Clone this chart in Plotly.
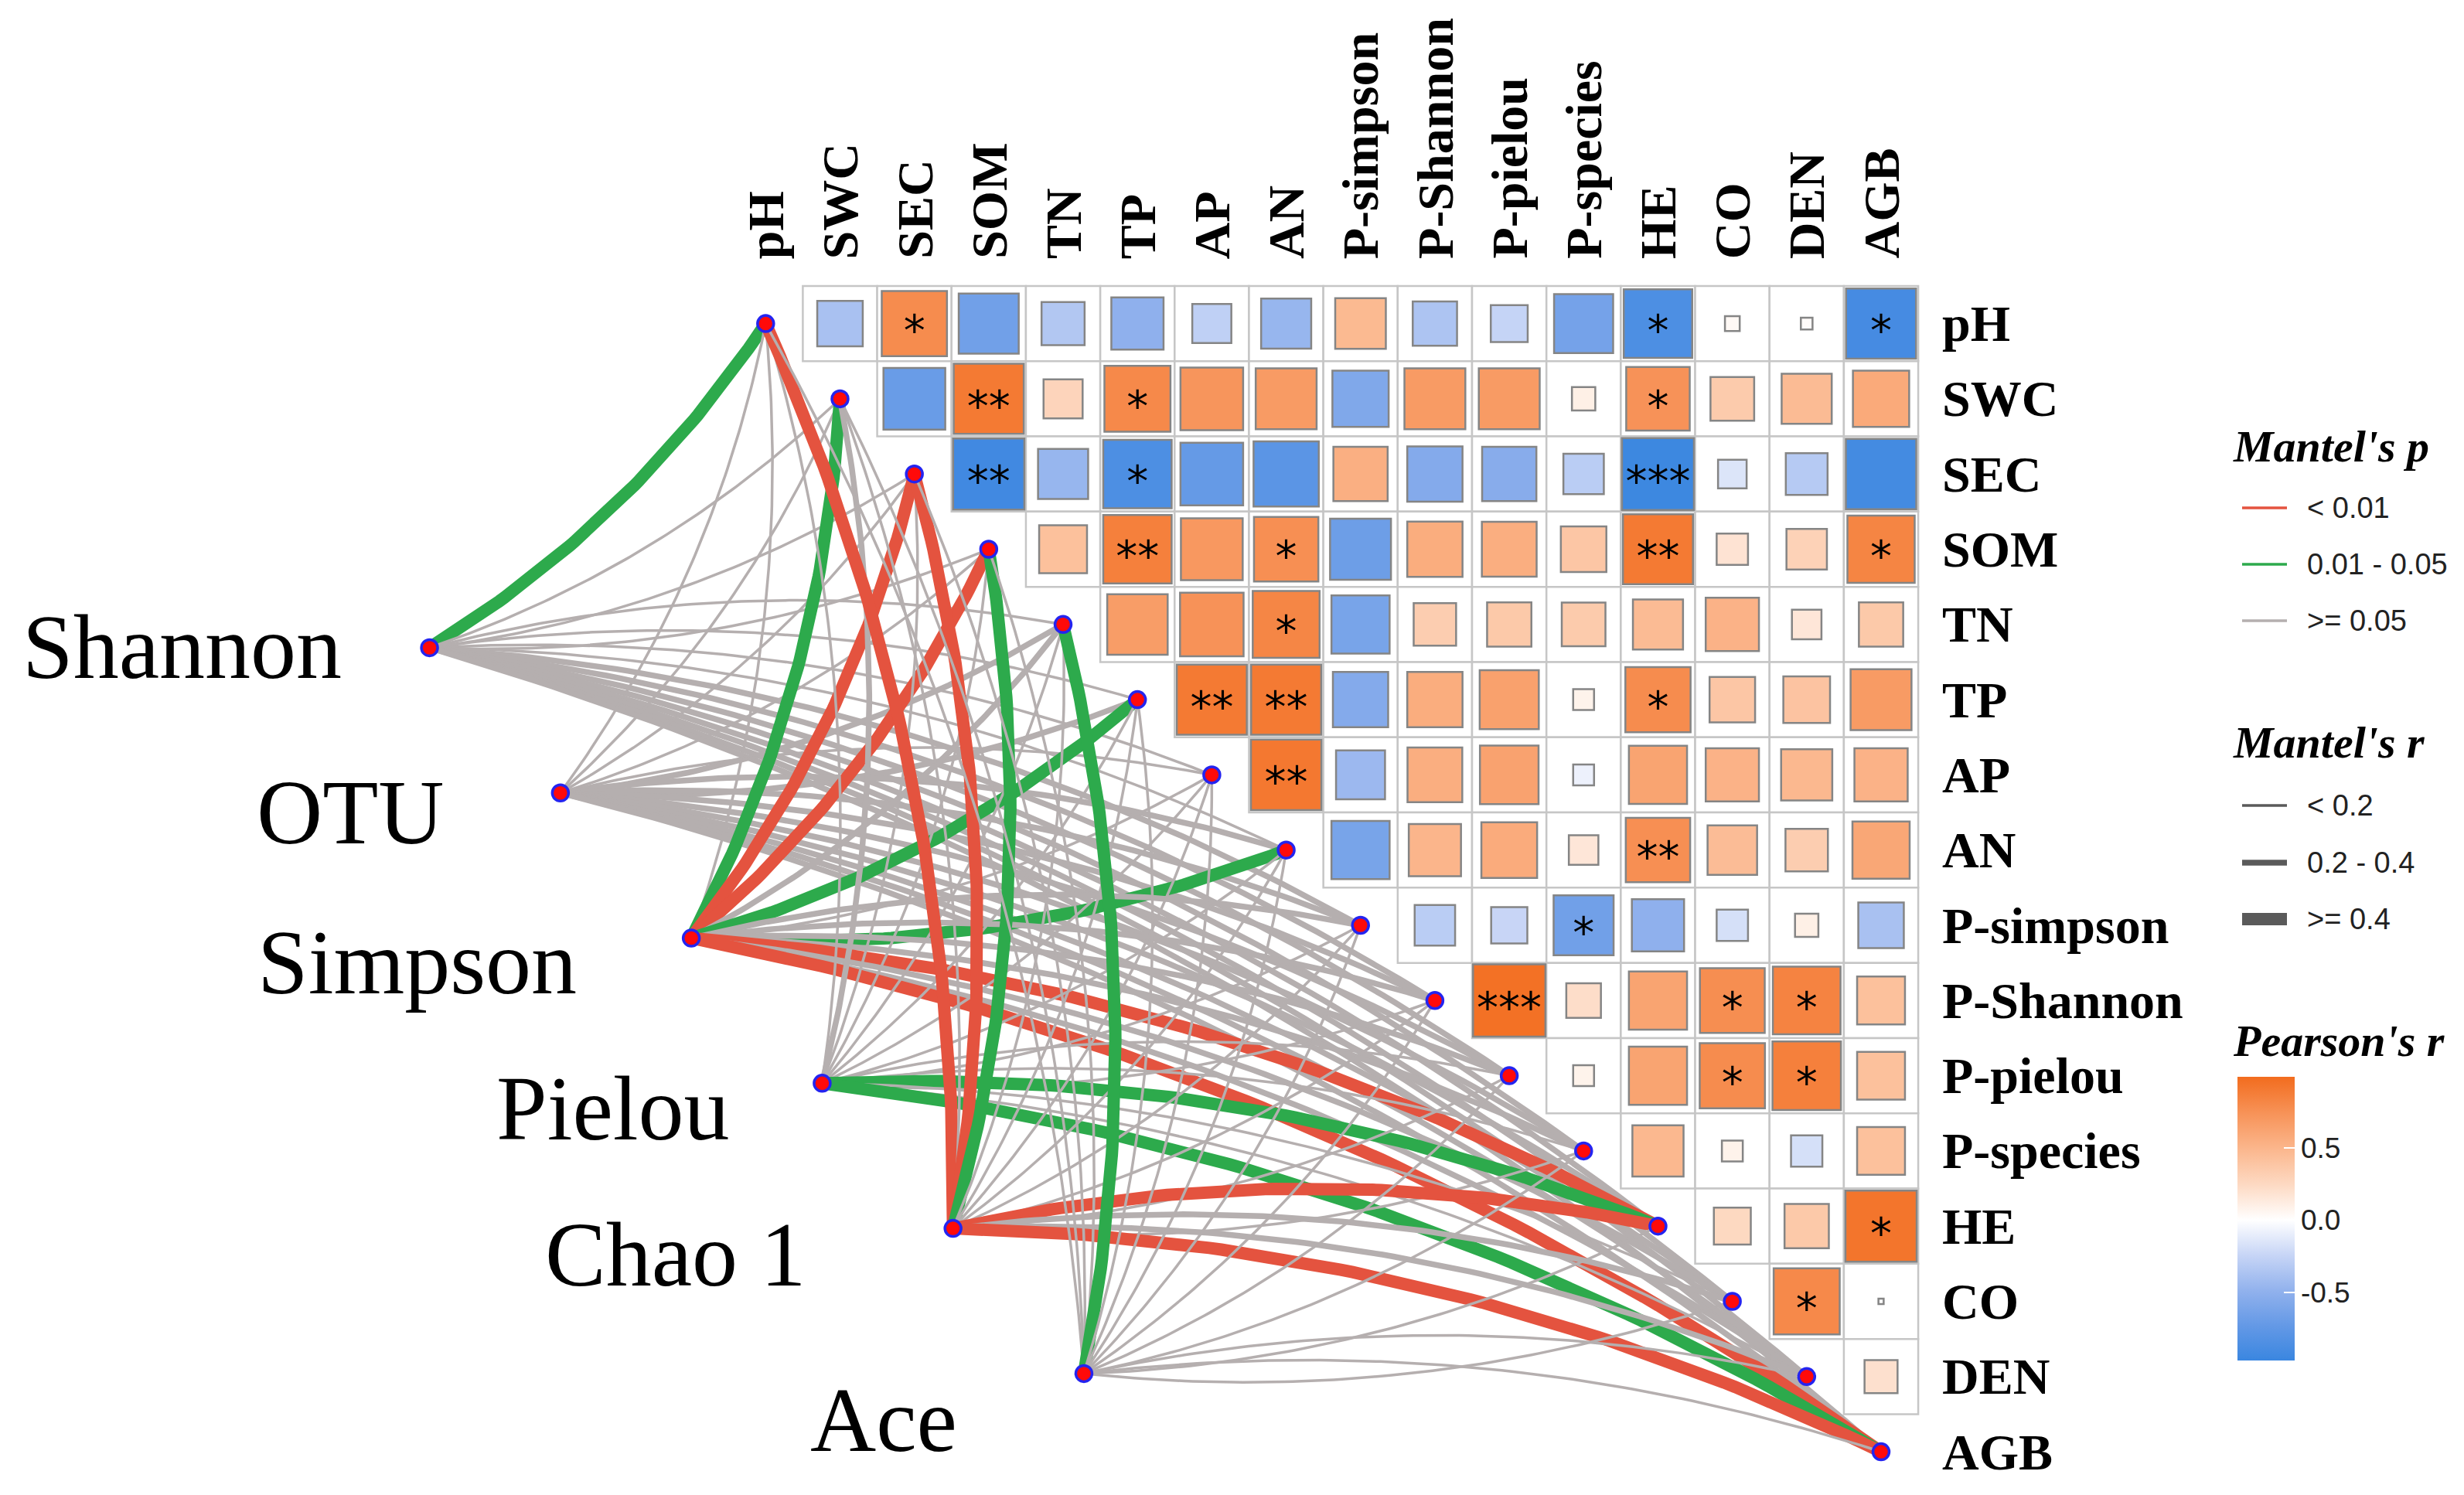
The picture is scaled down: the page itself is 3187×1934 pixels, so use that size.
import numpy as np
import plotly.graph_objects as go

W, H = 3187, 1934
OFF = 8                      # default page margin of the browser
FW, FH = W - 2 * OFF, H - 2 * OFF

# ---------------- data ----------------
variables = ["pH", "SWC", "SEC", "SOM", "TN", "TP", "AP", "AN", "P-simpson",
             "P-Shannon", "P-pielou", "P-species", "HE", "CO", "DEN", "AGB"]

# Pearson's r, upper triangle, row by row (columns to the right of the diagonal)
r_pH = [-0.38, 0.78, -0.66, -0.34, -0.50, -0.28, -0.46, 0.47, -0.36, -0.25, -0.64, -0.86, 0.04, 0.025, -0.90]
r_SWC = [-0.70, 0.90, 0.28, 0.80, 0.72, 0.68, -0.58, 0.68, 0.68, 0.10, 0.74, 0.35, 0.46, 0.58]
r_SEC = [-0.93, -0.46, -0.86, -0.72, -0.78, 0.54, -0.56, -0.54, -0.30, -0.95, -0.15, -0.32, -0.91]
r_SOM = [0.42, 0.86, 0.70, 0.76, -0.68, 0.56, 0.55, 0.38, 0.90, 0.18, 0.30, 0.83]
r_TN = [0.67, 0.74, 0.82, -0.62, 0.33, 0.36, 0.35, 0.46, 0.52, 0.16, 0.36]
r_TP = [0.90, 0.90, -0.56, 0.56, 0.64, 0.08, 0.78, 0.38, 0.40, 0.68]
r_AP = [0.91, -0.44, 0.55, 0.63, -0.08, 0.62, 0.52, 0.48, 0.52]
r_AN = [-0.62, 0.50, 0.57, 0.16, 0.76, 0.45, 0.33, 0.60]
r_Psimpson = [-0.30, -0.24, -0.66, -0.50, -0.18, 0.10, -0.38]
r_PShannon = [0.96, 0.22, 0.62, 0.77, 0.84, 0.42]
r_Ppielou = [0.08, 0.62, 0.78, 0.86, 0.42]
r_Pspecies = [0.48, 0.08, -0.18, 0.42]
r_HE = [0.25, 0.36, 0.93]
r_CO = [0.80, 0.005]
r_DEN = [0.20]

sig_pH = ["", "*", "", "", "", "", "", "", "", "", "", "*", "", "", "*"]
sig_SWC = ["", "**", "", "*", "", "", "", "", "", "", "*", "", "", ""]
sig_SEC = ["**", "", "*", "", "", "", "", "", "", "***", "", "", ""]
sig_SOM = ["", "**", "", "*", "", "", "", "", "**", "", "", "*"]
sig_TN = ["", "", "*", "", "", "", "", "", "", "", ""]
sig_TP = ["**", "**", "", "", "", "", "*", "", "", ""]
sig_AP = ["**", "", "", "", "", "", "", "", ""]
sig_AN = ["", "", "", "", "**", "", "", ""]
sig_Psimpson = ["", "", "*", "", "", "", ""]
sig_PShannon = ["***", "", "", "*", "*", ""]
sig_Ppielou = ["", "", "*", "*", ""]
sig_Pspecies = ["", "", "", ""]
sig_HE = ["", "", "*"]
sig_CO = ["*", ""]
sig_DEN = [""]

env_names = ["Shannon", "OTU", "Simpson", "Pielou", "Chao 1", "Ace"]

# Mantel test (one list per community index, in the order of `variables`)
mantel_p_Shannon = [0.032, 0.41, 0.52, 0.36, 0.28, 0.33, 0.45, 0.21, 0.12, 0.18, 0.16, 0.27, 0.09, 0.31, 0.24, 0.11]
mantel_p_OTU = [0.62, 0.44, 0.38, 0.29, 0.15, 0.19, 0.34, 0.26, 0.17, 0.22, 0.21, 0.35, 0.08, 0.23, 0.20, 0.07]
mantel_p_Simpson = [0.37, 0.021, 0.006, 0.004, 0.11, 0.028, 0.25, 0.018, 0.14, 0.13, 0.12, 0.22, 0.003, 0.19, 0.17, 0.002]
mantel_p_Pielou = [0.48, 0.16, 0.31, 0.39, 0.42, 0.47, 0.51, 0.36, 0.44, 0.40, 0.43, 0.38, 0.026, 0.27, 0.29, 0.034]
mantel_p_Chao1 = [0.004, 0.35, 0.007, 0.035, 0.43, 0.39, 0.46, 0.33, 0.24, 0.21, 0.20, 0.32, 0.002, 0.14, 0.12, 0.001]
mantel_p_Ace = [0.55, 0.49, 0.41, 0.37, 0.041, 0.44, 0.53, 0.46, 0.34, 0.39, 0.41, 0.47, 0.26, 0.38, 0.36, 0.31]

mantel_r_Shannon = [0.45, 0.12, 0.10, 0.14, 0.15, 0.13, 0.11, 0.16, 0.28, 0.26, 0.27, 0.22, 0.31, 0.24, 0.25, 0.30]
mantel_r_OTU = [0.08, 0.12, 0.15, 0.18, 0.28, 0.26, 0.17, 0.24, 0.29, 0.27, 0.28, 0.21, 0.33, 0.26, 0.27, 0.32]
mantel_r_Simpson = [0.13, 0.42, 0.48, 0.47, 0.22, 0.43, 0.19, 0.44, 0.31, 0.33, 0.34, 0.25, 0.52, 0.27, 0.28, 0.55]
mantel_r_Pielou = [0.10, 0.24, 0.14, 0.12, 0.11, 0.10, 0.09, 0.13, 0.11, 0.12, 0.12, 0.13, 0.43, 0.18, 0.17, 0.41]
mantel_r_Chao1 = [0.46, 0.13, 0.45, 0.41, 0.10, 0.11, 0.09, 0.12, 0.16, 0.19, 0.18, 0.14, 0.56, 0.21, 0.22, 0.58]
mantel_r_Ace = [0.07, 0.08, 0.09, 0.10, 0.42, 0.11, 0.09, 0.10, 0.12, 0.11, 0.13, 0.12, 0.15, 0.14, 0.12, 0.13]

colorbar_ticks = [-0.5, 0.0, 0.5]
colorbar_ticktext = ["-0.5", "0.0", "0.5"]
p_legend_labels = ["< 0.01", "0.01 - 0.05", ">= 0.05"]
r_legend_labels = ["< 0.2", "0.2 - 0.4", ">= 0.4"]

# ---------------- assembly ----------------
r_rows = [r_pH, r_SWC, r_SEC, r_SOM, r_TN, r_TP, r_AP, r_AN, r_Psimpson,
          r_PShannon, r_Ppielou, r_Pspecies, r_HE, r_CO, r_DEN]
sig_rows = [sig_pH, sig_SWC, sig_SEC, sig_SOM, sig_TN, sig_TP, sig_AP, sig_AN,
            sig_Psimpson, sig_PShannon, sig_Ppielou, sig_Pspecies, sig_HE, sig_CO, sig_DEN]
mantel_p = [mantel_p_Shannon, mantel_p_OTU, mantel_p_Simpson, mantel_p_Pielou, mantel_p_Chao1, mantel_p_Ace]
mantel_r = [mantel_r_Shannon, mantel_r_OTU, mantel_r_Simpson, mantel_r_Pielou, mantel_r_Chao1, mantel_r_Ace]

nvar = len(variables)

# ---------------- layout / style ----------------
PX0, CW = 990.3 - OFF, 96.18     # figure pixel of column 0 centre, pixels per column
PY0, RH = 418.6 - OFF, 97.3      # figure pixel of row 0 centre, pixels per row
x_range = [-PX0 / CW, (FW - PX0) / CW]
y_range = [(FH - PY0) / RH, -PY0 / RH]

ENV_X0, ENV_Y0 = -4.52, 4.31
ENV_DX, ENV_DY = 1.76, 1.93
label_off_px = [(-112, 0), (-148, 26), (-146, 32), (-117, 33), (-188, 34), (-162, 61)]

RED, GREEN, GREY = "#E4533F", "#2DAA4C", "#B5AFAF"
W_THIN, W_MED, W_THICK = 3.5, 7.5, 16
SERIF = "Liberation Serif"
SANS = "Liberation Sans"

CMIN, CMAX = -0.97, 0.99
neg_cols = ["rgb(58,134,224)", "rgb(100,153,230)", "rgb(146,178,237)", "rgb(199,213,246)"]
pos_cols = ["rgb(253,217,194)", "rgb(251,182,140)", "rgb(247,146,87)", "rgb(242,108,30)"]
z0 = -CMIN / (CMAX - CMIN)
colorscale = []
for k, c in enumerate(neg_cols):
    colorscale.append([z0 * k / 4, c])
colorscale.append([z0, "rgb(255,255,255)"])
for k, c in enumerate(pos_cols):
    colorscale.append([z0 + (1 - z0) * (k + 1) / 4, c])


def to_px(x, y):
    return PX0 + x * CW, PY0 + y * RH


def from_px(px, py):
    return (px - PX0) / CW, (py - PY0) / RH


def p_colour(p):
    return RED if p < 0.01 else (GREEN if p < 0.05 else GREY)


def r_width(r):
    return W_THIN if r < 0.2 else (W_MED if r < 0.4 else W_THICK)


def curve(x0, y0, x1, y1):
    p0 = np.array(to_px(x0, y0))
    p2 = np.array(to_px(x1, y1))
    d = p2 - p0
    L = np.hypot(d[0], d[1])
    if y1 <= y0 - 0.5:
        n = np.array([-d[1], d[0]]) / L
    else:
        n = np.array([d[1], -d[0]]) / L
    c = (p0 + p2) / 2 + n * 0.11 * L
    t = np.linspace(0, 1, 80)[:, None]
    pts = (1 - t) ** 2 * p0 + 2 * (1 - t) * t * c + t ** 2 * p2
    xs, ys = from_px(pts[:, 0], pts[:, 1])
    return xs, ys


fig = go.Figure()

# grid cells of the upper triangle
shapes = []
for i in range(nvar):
    for j in range(i + 1, nvar):
        shapes.append(dict(type="rect", xref="x", yref="y", x0=j - 0.5, x1=j + 0.5,
                           y0=i - 0.5, y1=i + 0.5, line=dict(color="#C6C6C6", width=2.5),
                           fillcolor="white", layer="below"))

# Mantel links
env_x = [ENV_X0 + k * ENV_DX for k in range(len(env_names))]
env_y = [ENV_Y0 + k * ENV_DY for k in range(len(env_names))]
for k in range(len(env_names)):
    for v in range(nvar):
        xs, ys = curve(env_x[k], env_y[k], v, v)
        fig.add_trace(go.Scatter(x=xs, y=ys, mode="lines",
                                 line=dict(color=p_colour(mantel_p[k][v]),
                                           width=r_width(mantel_r[k][v])),
                                 hoverinfo="skip", showlegend=False))

# Pearson squares
sx, sy, sv, ss, tx, ty, tt = [], [], [], [], [], [], []
for i, row in enumerate(r_rows):
    for m, r in enumerate(row):
        j = i + 1 + m
        sx.append(j)
        sy.append(i)
        sv.append(r)
        ss.append(95.5 * np.sqrt(abs(r)))
        if sig_rows[i][m]:
            tx.append(j)
            ty.append(i + 0.15)
            tt.append(sig_rows[i][m])


def px_x(v):
    return (v - OFF) / FW


def px_y(v):
    return 1 - (v - OFF) / FH


fig.add_trace(go.Scatter(
    x=sx, y=sy, mode="markers", hoverinfo="skip", showlegend=False,
    marker=dict(symbol="square", size=ss, color=sv, colorscale=colorscale,
                cmin=CMIN, cmax=CMAX, opacity=1,
                line=dict(color="#858585", width=2.5),
                showscale=True,
                colorbar=dict(x=px_x(2893.5), xanchor="left", xpad=0, ypad=0,
                              y=px_y(1576.5), yanchor="middle",
                              len=367, lenmode="pixels", thickness=73.5,
                              outlinewidth=0, tickvals=colorbar_ticks,
                              ticktext=colorbar_ticktext, ticks="inside",
                              ticklen=14, tickwidth=2, tickcolor="white",
                              tickfont=dict(family=SANS, size=37, color="#222222")))))

fig.add_trace(go.Scatter(x=tx, y=ty, mode="text", text=tt, hoverinfo="skip",
                         showlegend=False,
                         textfont=dict(family="DejaVu Sans", size=56, color="black")))

# nodes
node_x = list(range(nvar)) + env_x
node_y = list(range(nvar)) + env_y
fig.add_trace(go.Scatter(x=node_x, y=node_y, mode="markers", hoverinfo="skip",
                         showlegend=False,
                         marker=dict(size=21, color="#FF0A0A",
                                     line=dict(color="#2424F0", width=3.5))))

annotations = []
# top labels
top_y = (337 - OFF - PY0) / RH
for j, name in enumerate(variables):
    annotations.append(dict(x=j, y=top_y, xref="x", yref="y", text=name, showarrow=False,
                            textangle=-90, xanchor="center", yanchor="bottom",
                            font=dict(family=SERIF, size=66, color="black", weight="bold")))
# right labels
right_x = (2510 - OFF - PX0) / CW
for i, name in enumerate(variables):
    annotations.append(dict(x=right_x, y=i, xref="x", yref="y", text=name, showarrow=False,
                            xanchor="left", yanchor="middle",
                            font=dict(family=SERIF, size=66, color="black", weight="bold")))
# community index labels
for k, name in enumerate(env_names):
    annotations.append(dict(x=env_x[k] + label_off_px[k][0] / CW,
                            y=env_y[k] + label_off_px[k][1] / RH,
                            xref="x", yref="y", text=name, showarrow=False,
                            xanchor="right", yanchor="middle",
                            font=dict(family=SERIF, size=118, color="black")))

# legends (drawn in paper space)
LX0, LX1, LT = 2900, 2958, 2982


def add_title(text, ypx):
    annotations.append(dict(x=px_x(2886), y=px_y(ypx), xref="paper", yref="paper",
                            text="<b><i>" + text + "</i></b>", showarrow=False,
                            xanchor="left", yanchor="middle",
                            font=dict(family=SERIF, size=58, color="black")))


add_title("Mantel's p", 577)
for lab, col, ypx in zip(p_legend_labels, [RED, GREEN, GREY], [657, 730, 803]):
    shapes.append(dict(type="line", xref="paper", yref="paper", x0=px_x(LX0), x1=px_x(LX1),
                       y0=px_y(ypx), y1=px_y(ypx), line=dict(color=col, width=3.5)))
    annotations.append(dict(x=px_x(LT), y=px_y(ypx), xref="paper", yref="paper", text=lab,
                            showarrow=False, xanchor="left", yanchor="middle",
                            font=dict(family=SANS, size=38, color="#222222")))
add_title("Mantel's r", 960)
for lab, wd, ypx in zip(r_legend_labels, [W_THIN, W_MED, W_THICK], [1042, 1116, 1189]):
    shapes.append(dict(type="line", xref="paper", yref="paper", x0=px_x(LX0), x1=px_x(LX1),
                       y0=px_y(ypx), y1=px_y(ypx), line=dict(color="#5A5A5A", width=wd)))
    annotations.append(dict(x=px_x(LT), y=px_y(ypx), xref="paper", yref="paper", text=lab,
                            showarrow=False, xanchor="left", yanchor="middle",
                            font=dict(family=SANS, size=38, color="#222222")))
add_title("Pearson's r", 1346)

fig.update_layout(
    width=FW, height=FH, autosize=False,
    margin=dict(l=0, r=0, t=0, b=0, pad=0),
    paper_bgcolor="white", plot_bgcolor="white",
    xaxis=dict(range=x_range, visible=False, fixedrange=True),
    yaxis=dict(range=y_range, visible=False, fixedrange=True),
    shapes=shapes, annotations=annotations,
)

fig.write_html("out.html")
